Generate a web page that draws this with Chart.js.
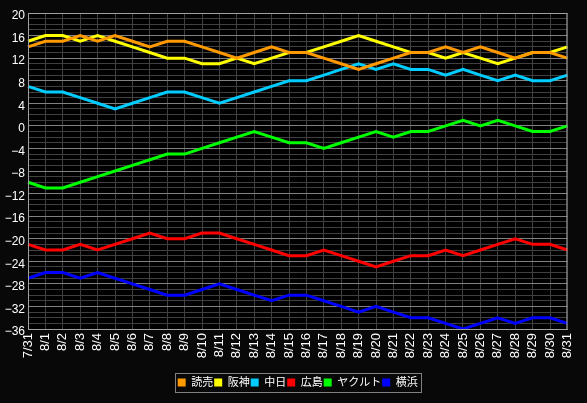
<!DOCTYPE html>
<html>
<head>
<meta charset="utf-8">
<script src="https://cdn.jsdelivr.net/npm/chart.js@4/dist/chart.umd.min.js"></script>
<style>
  html, body { margin: 0; padding: 0; background: #080808; }
  canvas { display: block; }
</style>
</head>
<body>
<canvas id="chart" width="587" height="403"></canvas>
<script>
// days on the x axis
const days = [`7/31`, `8/1`, `8/2`, `8/3`, `8/4`, `8/5`, `8/6`, `8/7`, `8/8`, `8/9`, `8/10`,
  `8/11`, `8/12`, `8/13`, `8/14`, `8/15`, `8/16`, `8/17`, `8/18`, `8/19`, `8/20`,
  `8/21`, `8/22`, `8/23`, `8/24`, `8/25`, `8/26`, `8/27`, `8/28`, `8/29`, `8/30`, `8/31`];

const teams = [`読売`, `阪神`, `中日`, `広島`, `ヤクルト`, `横浜`];
const teamColors = [`#ff9900`, `#ffff00`, `#00ccff`, `#ff0000`, `#00ff00`, `#0000ff`];

const yomiuri = [14, 15, 15, 16, 15, 16, 15, 14, 15, 15, 14, 13, 12, 13, 14, 13, 13, 12, 11, 10, 11, 12, 13, 13, 14, 13, 14, 13, 12, 13, 13, 12];
const hanshin = [15, 16, 16, 15, 16, 15, 14, 13, 12, 12, 11, 11, 12, 11, 12, 13, 13, 14, 15, 16, 15, 14, 13, 13, 12, 13, 12, 11, 12, 13, 13, 14];
const chunichi = [7, 6, 6, 5, 4, 3, 4, 5, 6, 6, 5, 4, 5, 6, 7, 8, 8, 9, 10, 11, 10, 11, 10, 10, 9, 10, 9, 8, 9, 8, 8, 9];
const hiroshima = [-21, -22, -22, -21, -22, -21, -20, -19, -20, -20, -19, -19, -20, -21, -22, -23, -23, -22, -23, -24, -25, -24, -23, -23, -22, -23, -22, -21, -20, -21, -21, -22];
const yakult = [-10, -11, -11, -10, -9, -8, -7, -6, -5, -5, -4, -3, -2, -1, -2, -3, -3, -4, -3, -2, -1, -2, -1, -1, 0, 1, 0, 1, 0, -1, -1, 0];
const yokohama = [-27, -26, -26, -27, -26, -27, -28, -29, -30, -30, -29, -28, -29, -30, -31, -30, -30, -31, -32, -33, -32, -33, -34, -34, -35, -36, -35, -34, -35, -34, -34, -35];

const series = [yomiuri, hanshin, chunichi, hiroshima, yakult, yokohama];

const FONT = `'Liberation Sans', 'Noto Sans CJK JP', sans-serif`;

// black plot area, outer frame, legend centred under the plot with a box
const frame = {
  id: `frame`,
  afterLayout(chart) {
    const a = chart.chartArea;
    const shift = (a.left + a.right) / 2 - (chart.legend.left + chart.legend.right) / 2;
    chart.legend.left += shift;
    chart.legend.right += shift;
  },
  beforeDraw(chart) {
    const {ctx, chartArea: a} = chart;
    ctx.save();
    ctx.fillStyle = `#000000`;
    ctx.fillRect(a.left, a.top, a.right - a.left, a.bottom - a.top);
    ctx.restore();
  },
  afterDraw(chart) {
    const {ctx, chartArea: a} = chart;
    ctx.save();
    ctx.strokeStyle = `#a0a0a0`;
    ctx.lineWidth = 1;
    ctx.strokeRect(a.left + 0.5, a.top + 0.5, a.right - a.left - 1, a.bottom - a.top);

    const boxes = chart.legend.legendHitBoxes;
    if (boxes.length) {
      const left = Math.min(...boxes.map((b) => b.left)) - 3;
      const right = Math.max(...boxes.map((b) => b.left + b.width)) + 3;
      const top = Math.min(...boxes.map((b) => b.top)) - 4;
      const bottom = Math.max(...boxes.map((b) => b.top + b.height)) + 4;
      ctx.strokeStyle = `#808080`;
      ctx.strokeRect(Math.round(left) + 0.5, Math.round(top) + 0.5, Math.round(right - left), Math.round(bottom - top));
    }
    ctx.restore();
  }
};

new Chart(document.getElementById(`chart`), {
  type: `line`,
  plugins: [frame],
  data: {
    labels: days,
    datasets: teams.map((team, i) => ({
      label: team,
      data: series[i],
      borderColor: teamColors[i],
      backgroundColor: teamColors[i],
      borderWidth: 3,
      pointRadius: 0,
      tension: 0,
      fill: false
    }))
  },
  options: {
    responsive: false,
    animation: false,
    layout: {
      padding: {left: 0, right: 15, top: 13, bottom: 5}
    },
    scales: {
      x: {
        offset: false,
        afterFit: (scale) => {
          scale.height = 47;
        },
        grid: {color: `#404040`, drawTicks: false},
        border: {color: `#a0a0a0`},
        ticks: {
          autoSkip: false,
          minRotation: 90,
          maxRotation: 90,
          padding: 4,
          color: `#ffffff`,
          font: {family: FONT, size: 13}
        }
      },
      y: {
        min: -36,
        max: 20,
        afterFit: (scale) => {
          scale.width = 28;
        },
        grid: {
          color: (ctx) => (ctx.tick && ctx.tick.value % 4 === 0 ? `#808080` : `#404040`),
          drawTicks: false
        },
        border: {color: `#a0a0a0`},
        ticks: {
          stepSize: 1,
          autoSkip: false,
          padding: 3,
          labelOffset: 3,
          color: `#ffffff`,
          font: {family: FONT, size: 12},
          callback: (value) => (value % 4 === 0 ? String(value).replace(`-`, `\u2212`) : ``)
        }
      }
    },
    plugins: {
      tooltip: {enabled: false},
      legend: {
        position: `bottom`,
        labels: {
          color: `#ffffff`,
          boxWidth: 8,
          boxHeight: 8,
          padding: 1,
          font: {family: FONT, size: 11},
          generateLabels: (chart) => Chart.defaults.plugins.legend.labels.generateLabels(chart)
            .map((item) => Object.assign(item, {lineWidth: 0}))
        }
      }
    }
  }
});
</script>
</body>
</html>
